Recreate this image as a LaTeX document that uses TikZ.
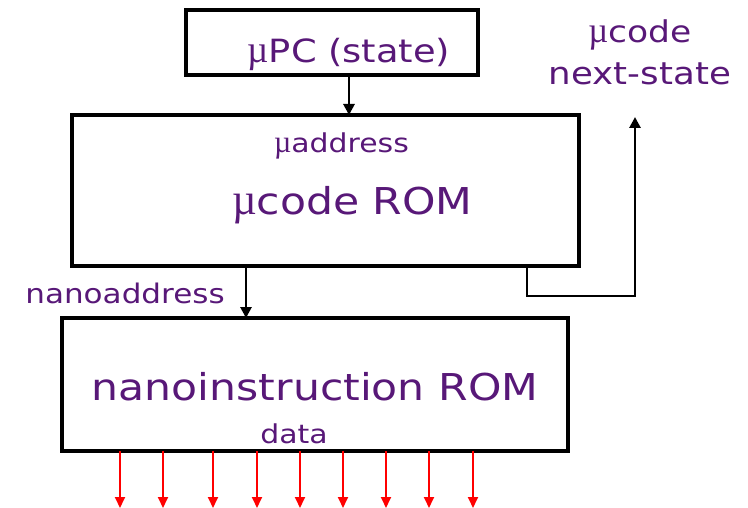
\documentclass[tikz,border=0pt]{standalone}
\usepackage{fontspec}
\usepackage{graphicx}
\setmainfont{DejaVu Sans}
\newfontfamily\mufont{Liberation Serif}
\usetikzlibrary{arrows.meta}
\definecolor{txtpurple}{RGB}{88,24,120}
\newcommand{\widetxt}[1]{\scalebox{1.15}[1]{#1}}
\newcommand{\fsz}[1]{\fontsize{#1}{#1}\selectfont}
\newcommand{\mych}{{\mufont\scalebox{1.0}[1.2]{µ}}}
\tikzset{
  box/.style={draw, line width=4.4pt, rectangle, inner sep=0pt, outer sep=0pt, fill=white},
  lbl/.style={text=txtpurple, inner sep=0pt, anchor=base},
  conn/.style={draw, line width=2.8pt, -{Triangle[width=11pt,length=11pt]}},
  redarr/.style={draw=red, line width=1.8pt, -{Triangle[width=10pt,length=11pt]}}
}
\begin{document}
\begin{tikzpicture}[x=1pt,y=1pt]
\useasboundingbox (0,0) rectangle (748,-508);
% boxes
\node[box, minimum width=292pt, minimum height=65pt] (pc) at (332,-42.5) {};
\node[box, minimum width=507pt, minimum height=151pt] (rom) at (325.5,-190.5) {};
\node[box, minimum width=506pt, minimum height=133pt] (nano) at (315,-384.5) {};
% labels
\node[lbl, font=\fsz{32}] (pctxt) at (349,-63) {\widetxt{\mych PC (state)}};
\node[lbl, font=\fsz{26}] (uaddr) at (341.5,-153) {\widetxt{\mych address}};
\node[lbl, font=\fsz{37}] (romtxt) at (352.5,-215) {\widetxt{\mych code ROM}};
\node[lbl, font=\fsz{30}] (ns1) at (640,-43) {\widetxt{\mych code}};
\node[lbl, font=\fsz{31}] (ns2) at (640,-85) {\widetxt{next-state}};
\node[lbl, font=\fsz{27}] (naddr) at (125,-303) {\widetxt{nanoaddress}};
\node[lbl, font=\fsz{37}] (nanotxt) at (315,-400) {\widetxt{nanoinstruction ROM}};
\node[lbl, font=\fsz{26}] (data) at (294,-443) {\widetxt{data}};
% connectors
\coordinate (x1) at (349,0);
\coordinate (x2) at (246,0);
\draw[conn] (pc.south -| x1) -- (rom.north -| x1);
\draw[conn] (rom.south -| x2) -- (nano.north -| x2);
\coordinate (fbstart) at (527,-266);
\coordinate (fbend) at (635,-117);
\draw[conn] (fbstart) -- (527,-296) -| (fbend);
% red data arrows
\foreach \i/\x in {1/120,2/163,3/213,4/257,5/300,6/343,7/386,8/429,9/473}{
  \coordinate (d\i) at (\x,-508);
  \draw[redarr] (nano.south -| d\i) -- (d\i);
}
\end{tikzpicture}
\end{document}
